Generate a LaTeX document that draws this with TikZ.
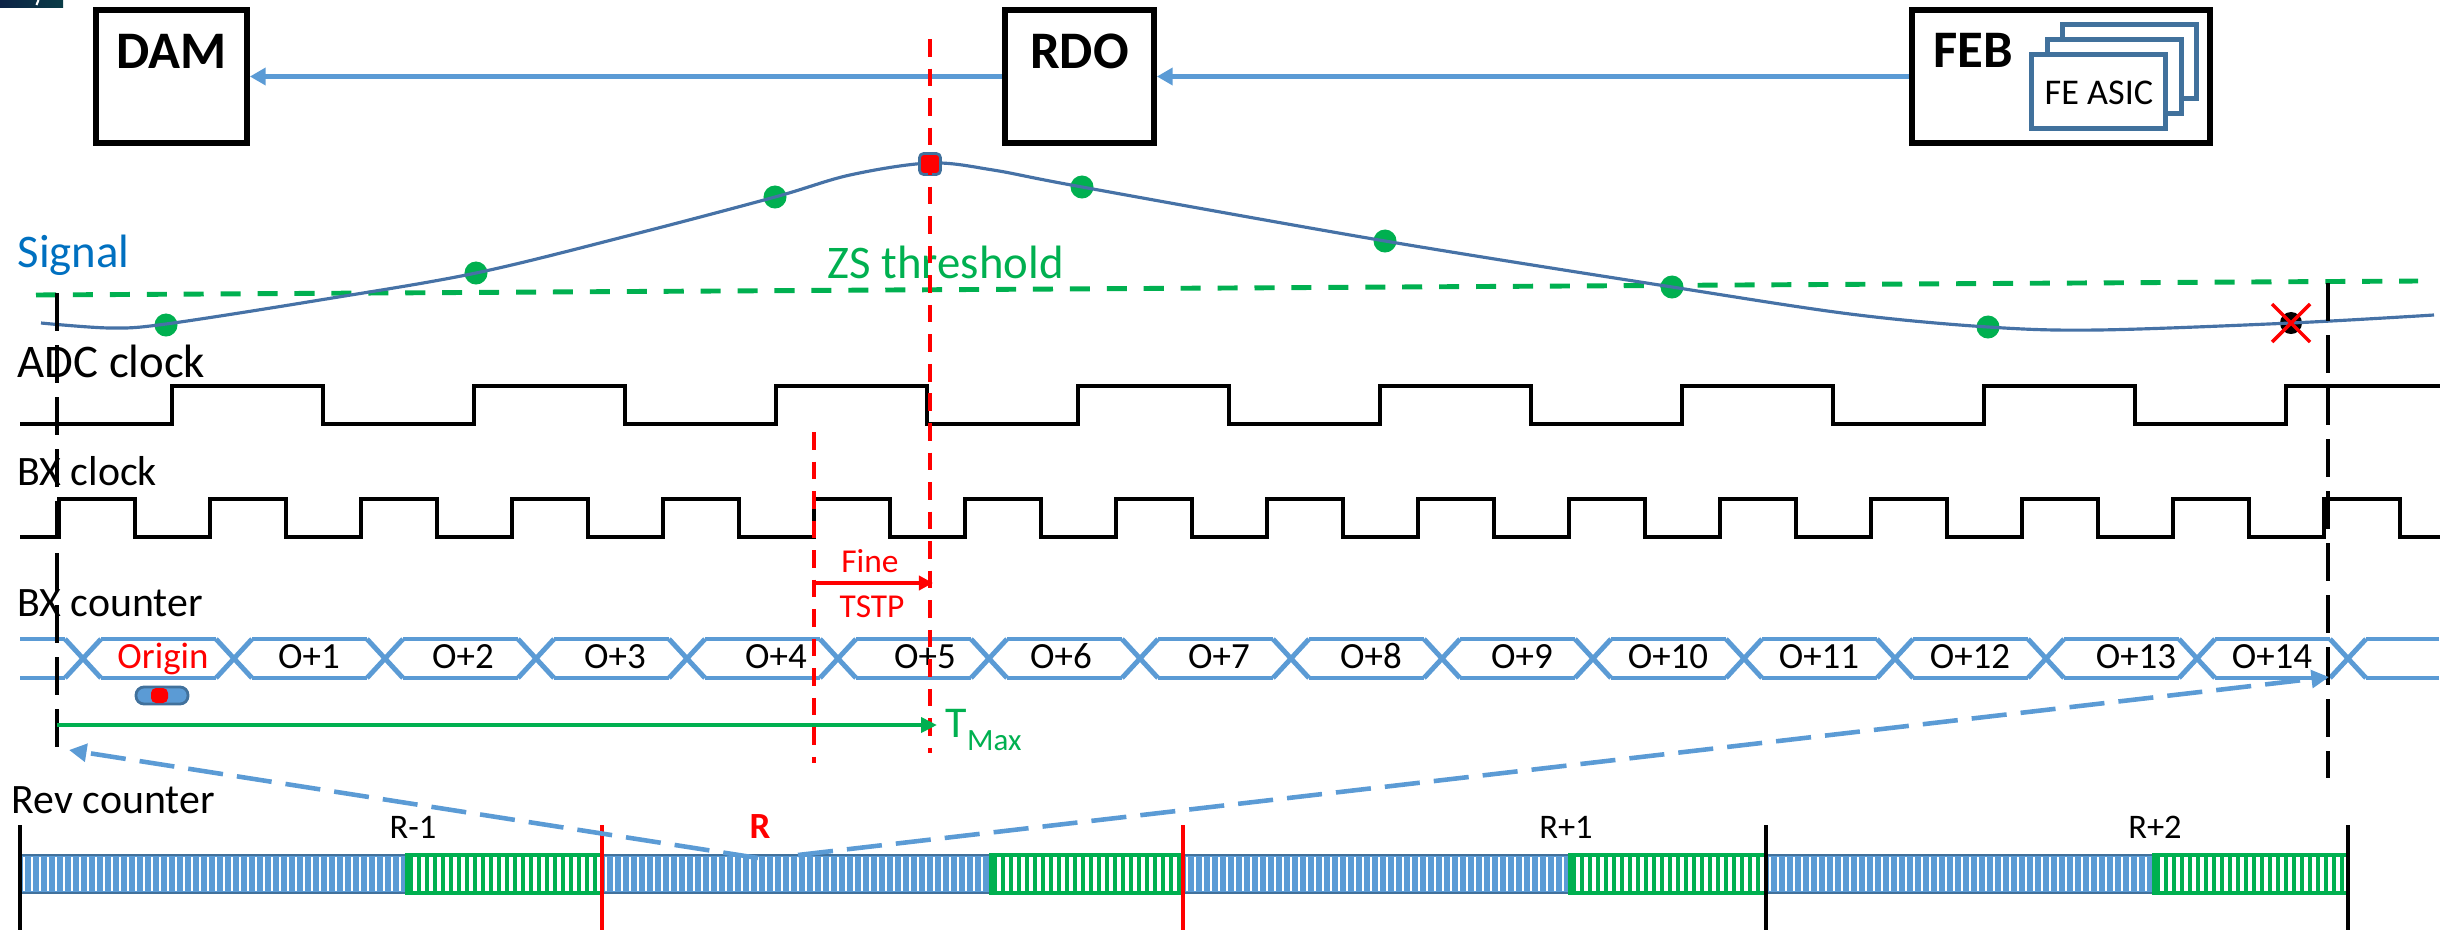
\documentclass[tikz,border=0pt]{standalone}
\usepackage{fontspec}
\setmainfont{Carlito}
\usetikzlibrary{arrows.meta}
\definecolor{accblue}{RGB}{91,155,213}
\definecolor{steel}{RGB}{65,113,156}
\definecolor{curveblue}{RGB}{70,114,166}
\definecolor{zsgreen}{RGB}{0,176,80}
\definecolor{sigtext}{RGB}{0,112,192}
\definecolor{navyA}{RGB}{12,35,70}
\definecolor{navyB}{RGB}{10,60,70}
\begin{document}
\begin{tikzpicture}[x=0.01cm,y=-0.01cm,
  box/.style={draw=black, line width=1.6pt, fill=white, inner sep=0pt, minimum height=1.33cm},
  boxtitle/.style={anchor=base, inner sep=0pt, font=\fontsize{15}{18}\selectfont\bfseries},
  asic/.style={draw=steel, line width=1.4pt, fill=white, minimum width=1.34cm, minimum height=0.74cm, inner sep=0pt},
  link/.style={accblue, line width=1.5pt, -{Triangle[length=4.5pt,width=4.8pt]}},
  rowlabel/.style={anchor=base west, inner sep=0pt},
  bigfont/.style={font=\fontsize{13.3}{16}\selectfont},
  midfont/.style={font=\fontsize{11.9}{14}\selectfont},
  sample/.style={circle, fill=zsgreen, minimum size=0.23cm, inner sep=0pt},
  clock/.style={line width=1.3pt, line join=miter},
  bus/.style={accblue, line width=1.4pt, line join=miter},
  buslabel/.style={anchor=base, inner sep=0pt, font=\fontsize{10.5}{12}\selectfont},
  blackguide/.style={line width=1.3pt, dash pattern=on 10.8pt off 4pt},
  redguide/.style={red, line width=1.1pt, dash pattern=on 5pt off 3.4pt},
  revlabel/.style={anchor=base, inner sep=0pt, font=\fontsize{9.8}{12}\selectfont},
  finelabel/.style={anchor=base, inner sep=0pt, text=red, font=\fontsize{9.5}{11}\selectfont},
  mapping/.style={accblue, line width=1.3pt, dash pattern=on 10pt off 4pt, -{Triangle[length=5pt,width=5pt]}}
]
\useasboundingbox (0,0) rectangle (2453,930);

% corner badge
\shade[left color=navyA, right color=navyB] (0,0) rectangle (63,7);
\draw[white, line width=0.6pt] (38.5,0) -- (36.5,5);

% readout chain
\node[box, minimum width=1.51cm] (dam) at (171.5,76.5) {};
\node[boxtitle] (damt) at (171.5,68) {DAM};
\node[box, minimum width=1.49cm] (rdo) at (1079.5,76.5) {};
\node[boxtitle] (rdot) at (1079.5,68) {RDO};
\node[box, minimum width=2.98cm] (feb) at (2061,76.5) {};
\node[boxtitle, anchor=base west] (febt) at (1933,67) {FEB};
\node[asic] (asic3) at (2129.5,61.5) {};
\node[asic] (asic2) at (2114.5,76.5) {};
\node[asic] (asic1) at (2098.5,91.5) {};
\node[anchor=base, inner sep=0pt, font=\fontsize{10.3}{12}\selectfont] (asict) at (2099,104) {FE ASIC};
\draw[link] (rdo.west) -- (dam.east);
\draw[link] (feb.west) -- (rdo.east);

% row labels
\node[rowlabel, bigfont, text=sigtext] (lsig) at (17,267) {Signal};
\node[rowlabel, bigfont, text=zsgreen] (lzs) at (827,278) {ZS threshold};
\node[rowlabel, bigfont] (ladc) at (17,377) {ADC clock};
\node[rowlabel, midfont] (lbx) at (17,485) {BX clock};
\node[rowlabel, midfont] (lbxc) at (17,616) {BX counter};
\node[rowlabel, midfont] (lrev) at (11,813) {Rev counter};

% zero-suppression threshold
\draw[zsgreen, line width=1.4pt, dash pattern=on 5.7pt off 4.8pt] (36,295) -- (2418,281);

% ADC samples and pulse shape
\node[sample] (s1) at (166,325) {};
\node[sample] (s2) at (476,273) {};
\node[sample] (s3) at (775,197) {};
\node[sample] (s4) at (1082,187) {};
\node[sample] (s5) at (1385,241) {};
\node[sample] (s6) at (1672,287) {};
\node[sample] (s7) at (1988,327) {};
\node[circle, fill=black, minimum size=0.22cm, inner sep=0pt] (lost) at (2291,323) {};
\draw[curveblue, line width=0.9pt] plot[smooth, tension=0.55] coordinates {
  (41,323) (110,328) (166,324) (320,300) (476,273) (631,235) (775,197)
  (850,175) (930,163) (993,170) (1082,187) (1385,241) (1672,287)
  (1850,314) (1988,327) (2098,330) (2291,323) (2434,315)};
\node[draw=steel, fill=red, line width=0.8pt, minimum size=0.21cm, inner sep=0pt, rounded corners=1.2pt] (peak) at (930,164) {};
\draw[red, line width=1pt] (2272,304) -- (2310,342) (2272,342) -- (2310,304);

% ADC clock
\draw[clock] (20,424) foreach \e in {172,474,...,1984} { -| (\e,386) -| (\e+151,424) } -| (2286,386) -- (2440,386);

% BX clock
\draw[clock] (20,537) foreach \r in {59,210,...,2324} { -| (\r,499) -| (\r+76,537) } -- (2440,537);

% BX counter bus
\draw[bus] (20,639) -- (65,639) (20,678) -- (65,678);
\foreach \c in {83,234,...,2348} {
  \draw[bus] (\c-18,639) -- (\c+18,678) (\c-18,678) -- (\c+18,639);
}
\foreach \c in {83,234,...,2197} {
  \draw[bus] (\c+18,639) -- (\c+133,639) (\c+18,678) -- (\c+133,678);
}
\draw[bus] (2366,639) -- (2439,639) (2366,678) -- (2439,678);

\node[buslabel, text=red] (b0) at (163,668) {Origin};
\node[buslabel] (b1) at (309,668) {O+1};
\node[buslabel] (b2) at (463,668) {O+2};
\node[buslabel] (b3) at (615,668) {O+3};
\node[buslabel] (b4) at (776,668) {O+4};
\node[buslabel] (b5) at (925,668) {O+5};
\node[buslabel] (b6) at (1061,668) {O+6};
\node[buslabel] (b7) at (1219,668) {O+7};
\node[buslabel] (b8) at (1371,668) {O+8};
\node[buslabel] (b9) at (1522,668) {O+9};
\node[buslabel] (b10) at (1668,668) {O+10};
\node[buslabel] (b11) at (1819,668) {O+11};
\node[buslabel] (b12) at (1970,668) {O+12};
\node[buslabel] (b13) at (2136,668) {O+13};
\node[buslabel] (b14) at (2272,668) {O+14};

% origin marker
\node[fill=accblue, draw=steel, line width=0.8pt, minimum width=0.52cm, minimum height=0.17cm, inner sep=0pt, rounded corners=0.08cm] (pill) at (162,695.5) {};
\fill[red, rounded corners=0.05cm] (151,688) rectangle (168,703);

% revolution counter bar
\foreach \a/\b in {20/407, 602/991, 1183/1570, 1766/2154} {
  \fill[accblue] (\a,855) rectangle (\b,893);
  \pgfmathsetmacro\sA{\a+4}
  \pgfmathsetmacro\sB{\a+12}
  \foreach \x in {\sA,\sB,...,\b} \draw[white, line width=0.7pt] (\x,857) -- (\x,891);
  \draw[steel, line width=0.8pt] (\a,855) rectangle (\b,893);
}
\foreach \a/\b in {407/602, 991/1183, 1570/1766, 2154/2348} {
  \fill[white] (\a,855) rectangle (\b,893);
  \pgfmathsetmacro\sA{\a+4}
  \pgfmathsetmacro\sB{\a+12}
  \foreach \x in {\sA,\sB,...,\b} \draw[zsgreen, line width=1.2pt] (\x,856) -- (\x,892);
  \draw[zsgreen, line width=0.9pt] (\a,855) rectangle (\b,893);
}
\foreach \x in {20,1766,2348} \draw[line width=1.3pt] (\x,825) -- (\x,930);
\foreach \x in {602,1183} \draw[red, line width=1pt] (\x,825) -- (\x,930);

\node[revlabel] (r0) at (413,838) {R-1};
\node[revlabel, text=red, font=\fontsize{10.5}{12}\selectfont\bfseries] (r1) at (760,838) {R};
\node[revlabel] (r2) at (1566,838) {R+1};
\node[revlabel] (r3) at (2155,838) {R+2};

% time guides
\draw[blackguide] (57,293) -- (57,755);
\draw[blackguide] (2328,283) -- (2328,778);
\draw[redguide] (930,39) -- (930,753);
\draw[redguide] (814,432) -- (814,763);

% fine timestamp
\coordinate (fineA) at (814,583);
\coordinate (fineB) at (933,583);
\draw[red, line width=1.2pt, -{Triangle[length=4pt,width=4pt]}] (fineA) -- (fineB);
\node[finelabel] (fine1) at (870,572) {Fine};
\node[finelabel] (fine2) at (872,617) {TSTP};

% maximum latency
\coordinate (tmA) at (57,725);
\coordinate (tmB) at (937,725);
\draw[zsgreen, line width=1.1pt, -{Triangle[length=4.5pt,width=4.2pt]}] (tmA) -- (tmB);
\node[anchor=base west, inner sep=0pt, text=zsgreen, font=\fontsize{12.5}{14}\selectfont] (tmax) at (945,737) {T\raisebox{-3.7pt}{\fontsize{8.8}{10}\selectfont Max}};

% revolution to bunch-crossing mapping
\coordinate (mapL) at (758,858);
\coordinate (mapR) at (798,855);
\coordinate (bxFirst) at (69,750);
\coordinate (bxLast) at (2329,677);
\draw[mapping] (mapL) -- (bxFirst);
\draw[mapping] (mapR) -- (bxLast);
\end{tikzpicture}
\end{document}
